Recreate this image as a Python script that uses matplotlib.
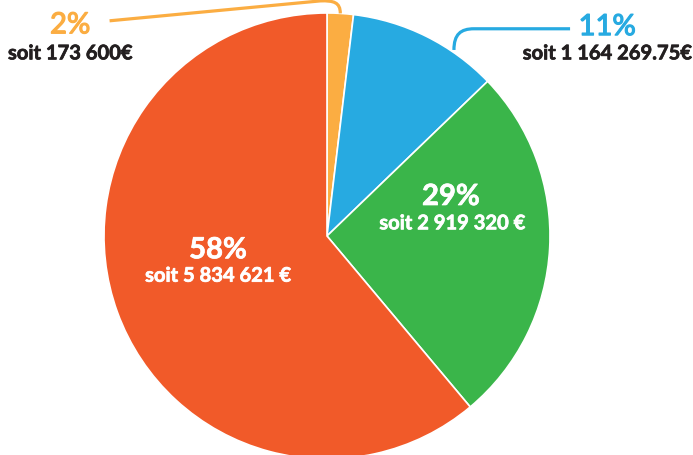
import matplotlib.pyplot as plt
from matplotlib.path import Path
import matplotlib.patches as mpatches
import matplotlib.patheffects as pe
import numpy as np

# slice sizes as drawn (percent of circle), clockwise from 12 o'clock
shares = [1.9, 10.9, 26.1, 61.1]
colors = ['#FBAD42', '#27AAE1', '#3AB54A', '#F15A29']
pct_labels = ['2%', '11%', '29%', '58%']
amount_labels = ['soit 173 600€', 'soit 1 164 269.75€',
                 'soit 2 919 320 €', 'soit 5 834 621 €']

DARK = '#231F20'
plt.rcParams['font.family'] = ['Lato', 'DejaVu Sans']

fig = plt.figure(figsize=(6.93, 4.56), dpi=100)
# pie axes placed in pixels: left 104, top 14, diameter 446
ax = fig.add_axes([104 / 693, -4 / 456, 446 / 693, 446 / 456])
wedges, _ = ax.pie(shares, colors=colors, startangle=90, counterclock=False,
                   radius=1.0,
                   wedgeprops=dict(edgecolor='white', linewidth=1.2))
ax.set_xlim(-1, 1)
ax.set_ylim(-1, 1)
ax.set_aspect('equal')
ax.axis('off')


def arc_point(theta, r=1.0):
    t = np.deg2rad(theta)
    return r * np.cos(t), r * np.sin(t)


def thicker(color, lw):
    return [pe.withStroke(linewidth=lw, foreground=color)]


codes = [Path.MOVETO, Path.CURVE4, Path.CURVE4, Path.CURVE4, Path.LINETO]

# leader line for the 2% slice
w = wedges[0]
x0, y0 = arc_point((w.theta1 + w.theta2) / 2)
verts = [(x0, y0), (x0, y0 + 0.05), (x0 - 0.03, y0 + 0.058), (x0 - 0.09, y0 + 0.056),
         (-0.975, 0.965)]
ax.add_patch(mpatches.PathPatch(Path(verts, codes), fill=False,
                                edgecolor=colors[0], linewidth=2.3,
                                clip_on=False, capstyle='butt'))

# leader line for the 11% slice
w = wedges[1]
x1, y1 = arc_point(w.theta1 + 0.3 * (w.theta2 - w.theta1), 1.01)
verts = [(x1, y1), (x1, y1 + 0.07), (x1 + 0.03, y1 + 0.095), (x1 + 0.09, y1 + 0.095),
         (1.09, y1 + 0.095)]
ax.add_patch(mpatches.PathPatch(Path(verts, codes), fill=False,
                                edgecolor=colors[1], linewidth=2.3,
                                clip_on=False, capstyle='butt'))

# outside labels
ax.text(-1.152, 0.909, pct_labels[0], color=colors[0], fontsize=21,
        ha='center', va='baseline', path_effects=thicker(colors[0], 0.9))
ax.text(-1.152, 0.792, amount_labels[0], color=DARK, fontsize=14.5,
        fontweight='bold', ha='center', va='baseline',
        path_effects=thicker(DARK, 0.5))
ax.text(1.256, 0.901, pct_labels[1], color=colors[1], fontsize=21,
        ha='center', va='baseline', path_effects=thicker(colors[1], 0.9))
ax.text(1.256, 0.792, amount_labels[1], color=DARK, fontsize=14.5,
        fontweight='bold', ha='center', va='baseline',
        path_effects=thicker(DARK, 0.5))

# inside labels
ax.text(0.556, 0.139, pct_labels[2], color='white', fontsize=21,
        fontweight='bold', ha='center', va='baseline',
        path_effects=thicker('white', 0.5))
ax.text(0.561, 0.030, amount_labels[2], color='white', fontsize=14.5,
        fontweight='bold', ha='center', va='baseline',
        path_effects=thicker('white', 0.5))
ax.text(-0.489, -0.100, pct_labels[3], color='white', fontsize=21,
        fontweight='bold', ha='center', va='baseline',
        path_effects=thicker('white', 0.5))
ax.text(-0.489, -0.205, amount_labels[3], color='white', fontsize=14.5,
        fontweight='bold', ha='center', va='baseline',
        path_effects=thicker('white', 0.5))

fig.savefig('out.png', dpi=100)
